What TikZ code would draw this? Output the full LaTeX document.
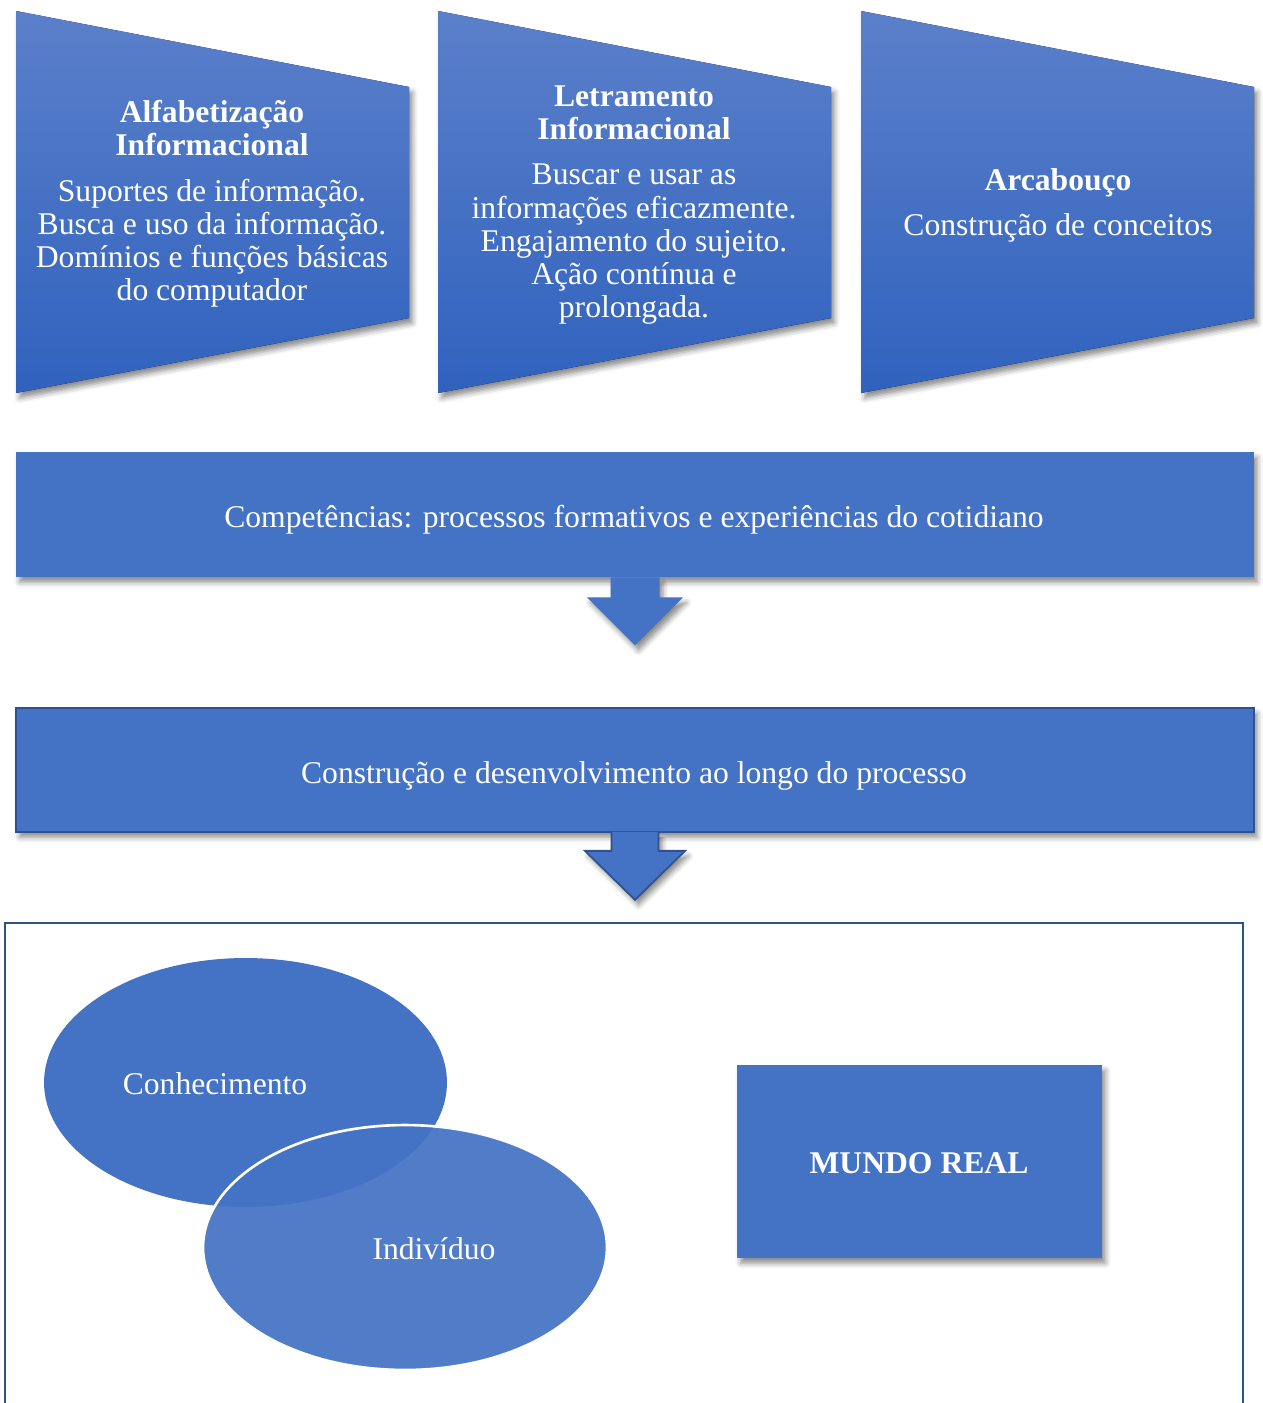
\documentclass[tikz,border=0pt]{standalone}
\usepackage{fontspec}
\setmainfont{Liberation Serif}
\usetikzlibrary{positioning,calc,shapes.geometric,shadows.blur}
\definecolor{bloco}{HTML}{4472C4}
\definecolor{blococlaro}{HTML}{5B80CA}
\definecolor{blocoescuro}{HTML}{3062BE}
\definecolor{contorno}{HTML}{2F528F}
\tikzset{
  texto/.style={text=white, align=center, inner sep=0pt, font=\fontsize{18}{18.9}\selectfont},
  sombra/.style={blur shadow={shadow xshift=2pt, shadow yshift=-3pt, shadow blur radius=3pt, shadow opacity=45}},
  trapezio/.style={top color=blococlaro, bottom color=blocoescuro, sombra},
  barra/.style={fill=bloco, sombra, inner sep=0pt, minimum width=24.76cm},
  seta/.style={fill=bloco, sombra},
  elipse/.style={ellipse, inner sep=0pt},
}

\begin{document}
\begin{tikzpicture}[x=0.02cm, y=-0.02cm]
    \useasboundingbox (0,0) rectangle (1263,1403);
    % trapezios do topo
    \foreach \xa in {16,438,861}
        \fill[trapezio] (\xa,11) -- ++(393,76) -- ++(0,231) -- ++(-393,75) -- cycle;
    \node[texto] (alfa) at (212,204) {\textbf{Alfabetização}\\\textbf{Informacional}\\[6.8pt]
        Suportes de informação.\\Busca e uso da informação.\\Domínios e funções básicas\\do computador};
    \node[texto] (letra) at (634,205) {\textbf{Letramento}\\\textbf{Informacional}\\[7pt]
        Buscar e usar as\\informações eficazmente.\\Engajamento do sujeito.\\Ação contínua e\\prolongada.};
    \node[texto] (arca) at (1058,205.5) {\textbf{Arcabouço}\\[7pt]Construção de conceitos};

    % barras e setas
    \node[barra, minimum height=2.5cm] (comp) at (635,514.5) {};
    \node[texto] (tcomp) at (634,520) {Competências: processos formativos e experiências do cotidiano};
    \fill[seta] ($(comp.south)+(-24.5,0)$) -- ++(0,20) -- ++(-23.5,0) -- ($(comp.south)+(0,68)$)
        -- ($(comp.south)+(48,20)$) -- ++(-23.5,0) -- ++(0,-20) -- cycle;

    \node[barra, minimum height=2.48cm, draw=contorno, line width=1pt] (cons) at (635,770) {};
    \node[texto] (tcons) at (634,776) {Construção e desenvolvimento ao longo do processo};
    \draw[seta, draw=contorno, line width=1pt] ($(cons.south)+(-23.5,-1)$) -- ++(0,19) -- ++(-26.5,0)
        -- ($(cons.south)+(0,67)$) -- ($(cons.south)+(50,18)$) -- ++(-26.5,0) -- ++(0,-19);

    % quadro inferior
    \draw[contorno, line width=1.1pt] (5,1410) -- (5,923) -- (1243,923) -- (1243,1410);
    \node[elipse, fill=bloco, minimum width=8.06cm, minimum height=4.98cm] (conh) at (245.5,1082.5) {};
    \node[elipse, fill=bloco, fill opacity=0.93, draw=white, line width=1.5pt,
          minimum width=8.08cm, minimum height=4.9cm] (indi) at (405,1247.5) {};
    \node[texto] (tconh) at (215,1084) {Conhecimento};
    \node[texto] (tindi) at (434,1249) {Indivíduo};
    \node[fill=bloco, sombra, minimum width=7.3cm, minimum height=3.86cm] (mundo) at (919.5,1161.5) {};
    \node[texto] (tmundo) at (919,1163) {\textbf{MUNDO REAL}};
\end{tikzpicture}
\end{document}
